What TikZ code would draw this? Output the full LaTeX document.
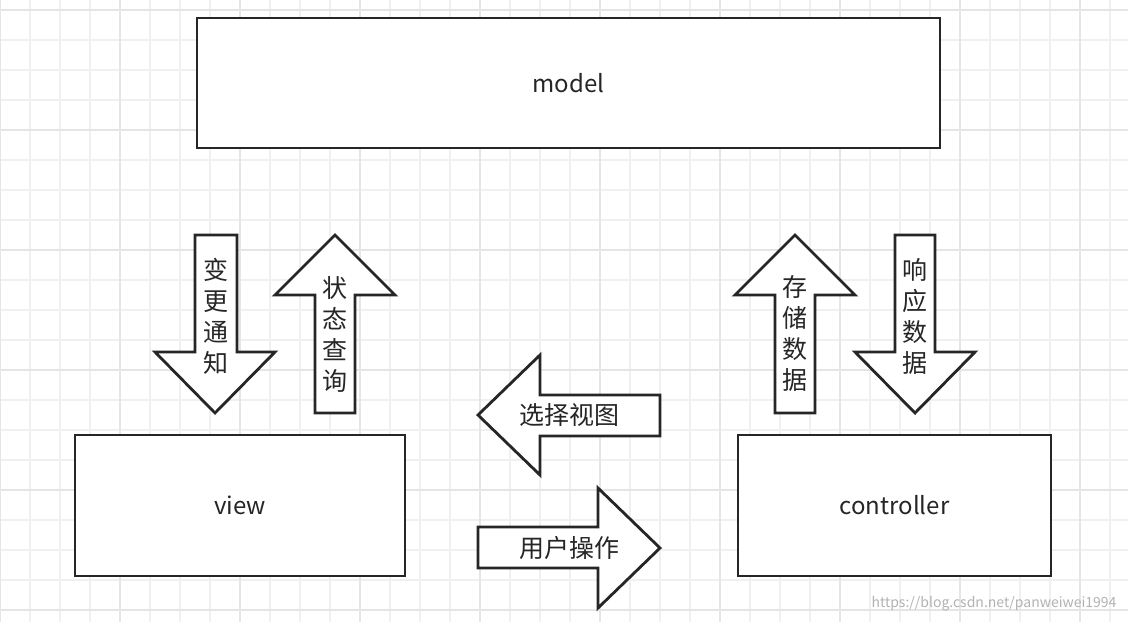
\documentclass[tikz,border=0pt]{standalone}
\usepackage{fontspec}
\setmainfont{Noto Sans CJK SC}
\begin{document}
\begin{tikzpicture}[x=1pt,y=-1pt,
  box/.style={draw=black!85,line width=2.8pt,fill=white},
  arr/.style={draw=black!85,line width=2.8pt,fill=white,line join=miter},
  lbl/.style={font=\fontsize{24}{30}\selectfont,text=black!85},
  vl/.style={font=\fontsize{25}{31}\selectfont,text=black!85,align=center,text width=26pt}]
\useasboundingbox (0,0) rectangle (1128,622);
\fill[white] (0,0) rectangle (1128,622);
\foreach \x in {0,30,...,1120} \draw[black!6,line width=1.5pt] (\x,0) -- (\x,622);
\foreach \y in {10,40,...,620} \draw[black!6,line width=1.5pt] (0,\y) -- (1128,\y);
\foreach \x in {0,120,...,1120} \draw[black!10,line width=1.5pt] (\x,0) -- (\x,622);
\foreach \y in {10,130,...,620} \draw[black!10,line width=1.5pt] (0,\y) -- (1128,\y);
\node[box,minimum width=743pt,minimum height=130pt,lbl] (model) at (568.5,83) {model};
\node[box,minimum width=330pt,minimum height=141pt,lbl] (view) at (240,505.5) {view};
\node[box,minimum width=313pt,minimum height=141pt,lbl] (ctrl) at (894.5,505.5) {controller};
\draw[arr] (195,235) -- (237,235) -- (237,352) -- (275,352) -- (215,413) -- (155,352) -- (195,352) -- cycle;
\node[vl] (a1) at (216,316) {变\\更\\通\\知};
\draw[arr] (335,235) -- (395,295) -- (355,295) -- (355,413) -- (315,413) -- (315,295) -- (275,295) -- cycle;
\node[vl] (a2) at (335,334) {状\\态\\查\\询};
\draw[arr] (795,235) -- (855,295) -- (815,295) -- (815,413) -- (775,413) -- (775,295) -- (735,295) -- cycle;
\node[vl] (a3) at (795,334) {存\\储\\数\\据};
\draw[arr] (895,235) -- (935,235) -- (935,352) -- (975,352) -- (915,413) -- (855,352) -- (895,352) -- cycle;
\node[vl] (a4) at (915,316) {响\\应\\数\\据};
\draw[arr] (478,415) -- (540,355) -- (540,395) -- (660,395) -- (660,436) -- (540,436) -- (540,475) -- cycle;
\node[vl,text width=] (a5) at (569,415) {选择视图};
\draw[arr] (478,527) -- (598,527) -- (598,488) -- (660,548) -- (598,608) -- (598,568) -- (478,568) -- cycle;
\node[vl,text width=] (a6) at (569,548) {用户操作};
\node[font=\fontsize{14}{16}\selectfont,text=black!30,anchor=east] (wm) at (1120,604) {https://blog.csdn.net/panweiwei1994};
\end{tikzpicture}
\end{document}
